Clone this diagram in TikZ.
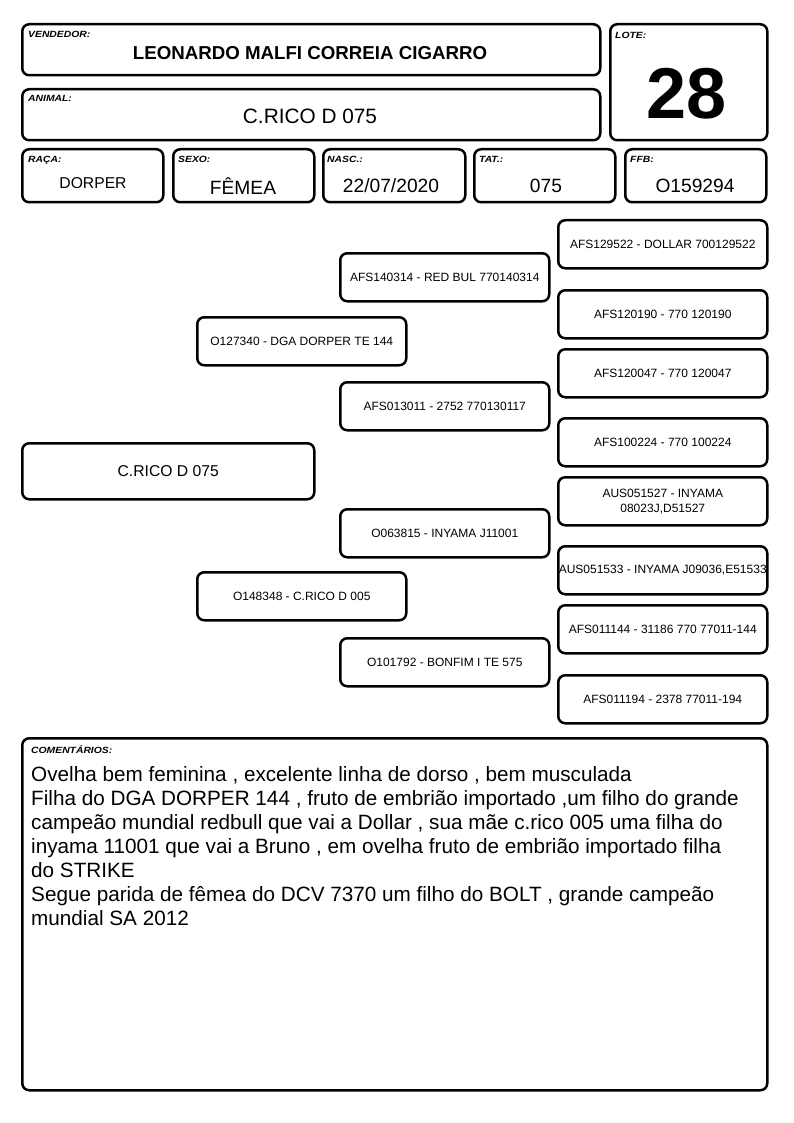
\documentclass[tikz,border=0pt]{standalone}
\usepackage{fontspec}
\setmainfont{Liberation Sans}
\newfontfamily\tagfont[FakeStretch=1.15]{Liberation Sans}
\usetikzlibrary{positioning}

\tikzset{
  card/.style={draw, line width=2.5pt, rounded corners=7pt, anchor=north west, inner sep=0pt},
  tag/.style={anchor=base west, inner sep=0pt, font={\tagfont\bfseries\itshape\fontsize{9}{10}\selectfont}},
  val/.style={inner sep=0pt, font=\fontsize{19.2}{22}\selectfont},
  ped/.style={card, minimum width=209pt, minimum height=48pt, align=center, font=\fontsize{12}{15}\selectfont},
}

\begin{document}
\begin{tikzpicture}[x=1pt,y=-1pt]
\useasboundingbox (0,0) rectangle (794,1123);

% cabecalho
\node[card, minimum width=578pt, minimum height=51pt] (vend) at (21,23) {};
\node[tag] (vendtag) at (28,38) {VENDEDOR:};
\node[val, font={\bfseries\fontsize{18.7}{22}\selectfont}] (vendname) at (310,53) {LEONARDO MALFI CORREIA CIGARRO};

\node[card, minimum width=157pt, minimum height=116pt] (lote) at (609,23) {};
\node[tag] (lotetag) at (615,39) {LOTE:};
\node[val, font={\bfseries\fontsize{72}{80}\selectfont}] (lotenum) at (687,94) {28};

\node[card, minimum width=578pt, minimum height=51pt] (animal) at (21,88) {};
\node[tag] (animaltag) at (28,102) {ANIMAL:};
\node[val, font=\fontsize{20.8}{24}\selectfont] (animalname) at (310,116) {C.RICO D 075};

\node[card, minimum width=141pt, minimum height=53pt] (raca) at (21,148) {};
\node[tag] (racatag) at (28,163) {RAÇA:};
\node[val, font=\fontsize{15.7}{18}\selectfont] (racaval) at (93,183) {DORPER};

\node[card, minimum width=141pt, minimum height=53pt] (sexo) at (172,148) {};
\node[tag] (sexotag) at (178,163) {SEXO:};
\node[val] (sexoval) at (243,186) {FÊMEA};

\node[card, minimum width=142pt, minimum height=53pt] (nasc) at (322,148) {};
\node[tag] (nasctag) at (327,163) {NASC.:};
\node[val] (nascval) at (391,186) {22/07/2020};

\node[card, minimum width=141pt, minimum height=53pt] (tat) at (473,148) {};
\node[tag] (tattag) at (479,163) {TAT.:};
\node[val] (tatval) at (546,186) {075};

\node[card, minimum width=141pt, minimum height=53pt] (ffb) at (624,148) {};
\node[tag] (ffbtag) at (630,163) {FFB:};
\node[val] (ffbval) at (695,186) {O159294};

% genealogia
\node[ped, minimum width=292pt, minimum height=56pt, font=\fontsize{15.7}{18}\selectfont] (an) at (21,442) {C.RICO D 075};

\node[ped] (p) at (196,316) {O127340 - DGA DORPER TE 144};
\node[ped] (m) at (196,571) {O148348 - C.RICO D 005};

\node[ped] (pp) at (339,252) {AFS140314 - RED BUL 770140314};
\node[ped] (pm) at (339,381) {AFS013011 - 2752 770130117};
\node[ped] (mp) at (339,508) {O063815 - INYAMA J11001};
\node[ped] (mm) at (339,637) {O101792 - BONFIM I TE 575};

\node[ped] (ppp) at (557,219) {AFS129522 - DOLLAR 700129522};
\node[ped] (ppm) at (557,289) {AFS120190 - 770 120190};
\node[ped] (pmp) at (557,348) {AFS120047 - 770 120047};
\node[ped] (pmm) at (557,417) {AFS100224 - 770 100224};
\node[ped] (mpp) at (557,476) {AUS051527 - INYAMA\\08023J,D51527};
\node[ped] (mpm) at (557,545) {AUS051533 - INYAMA J09036,E51533};
\node[ped] (mmp) at (557,604) {AFS011144 - 31186 770 77011-144};
\node[ped] (mmm) at (557,674) {AFS011194 - 2378 77011-194};

% comentarios
\node[card, minimum width=745pt, minimum height=352pt] (coment) at (21,737) {};
\node[tag] (comenttag) at (31,753) {COMENTÁRIOS:};
\node[anchor=north west, inner sep=0pt, align=left, font=\fontsize{20.7}{24}\selectfont] (comenttxt) at (31,766)
  {Ovelha bem feminina , excelente linha de dorso , bem musculada\\
   Filha do DGA DORPER 144 , fruto de embrião importado ,um filho do grande\\
   campeão mundial redbull que vai a Dollar , sua mãe c.rico 005 uma filha do\\
   inyama 11001 que vai a Bruno , em ovelha fruto de embrião importado filha\\
   do STRIKE\\
   Segue parida de fêmea do DCV 7370 um filho do BOLT , grande campeão\\
   mundial SA 2012};
\end{tikzpicture}
\end{document}
